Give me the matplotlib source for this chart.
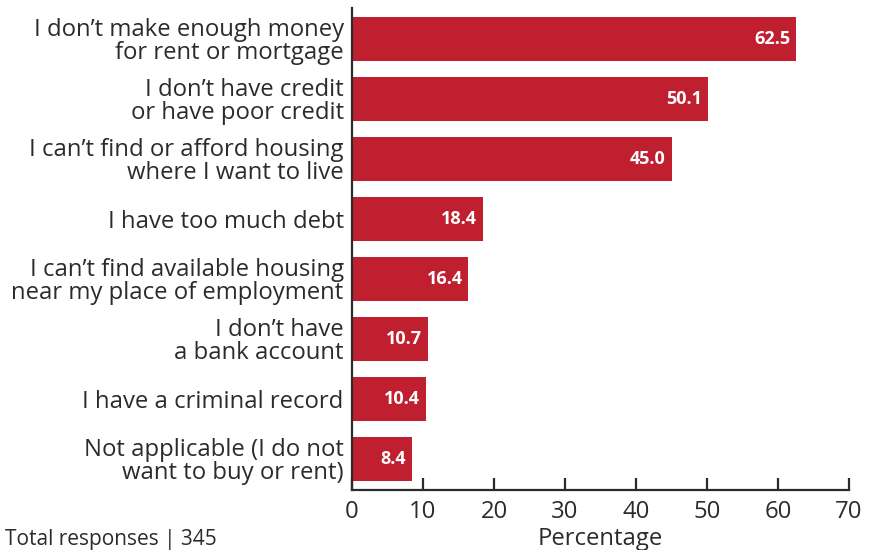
import matplotlib
matplotlib.use("Agg")
import matplotlib.pyplot as plt

categories = [
    "I don\u2019t make enough money\nfor rent or mortgage",
    "I don\u2019t have credit\nor have poor credit",
    "I can\u2019t find or afford housing\nwhere I want to live",
    "I have too much debt",
    "I can\u2019t find available housing\nnear my place of employment",
    "I don\u2019t have\na bank account",
    "I have a criminal record",
    "Not applicable (I do not\nwant to buy or rent)",
]
values = [62.5, 50.1, 45.0, 18.4, 16.4, 10.7, 10.4, 8.4]
xticks = [0, 10, 20, 30, 40, 50, 60, 70]

plt.rcParams['font.family'] = ['Open Sans', 'DejaVu Sans']
TXT = '#2b2b2b'
BAR = '#C01F30'

fig = plt.figure(figsize=(8.77, 5.5), dpi=100)
ax = fig.add_axes([352/877, 1-490/550, (849-352)/877, (490-8)/550])

pos = list(range(len(values)))
ax.barh(pos, values, height=0.73, color=BAR)
for p, v in zip(pos, values):
    ax.annotate(f"{v:.1f}", (v, p), xytext=(-4, 0), textcoords='offset points',
                ha='right', va='center', color='white', fontsize=13, fontweight='bold')

ax.set_ylim(7.52, -0.52)
ax.set_xlim(0, 70)
ax.set_yticks(pos)
ax.set_yticklabels(categories, fontsize=17.2, color=TXT, linespacing=0.95)
ax.tick_params(axis='y', length=0, pad=6)
ax.set_xticks(xticks)
ax.set_xticklabels([str(t) for t in xticks], fontsize=17.2, color=TXT)
ax.tick_params(axis='x', direction='in', length=9, width=1.6, color=TXT, pad=7)
for s in ['top', 'right']:
    ax.spines[s].set_visible(False)
for s in ['left', 'bottom']:
    ax.spines[s].set_linewidth(1.6)
    ax.spines[s].set_color(TXT)
ax.set_xlabel("Percentage", fontsize=17.2, color=TXT, labelpad=2.5)

fig.text(5/877, 1-545/550, "Total responses | 345", fontsize=15, color=TXT, ha='left', va='baseline')

fig.savefig("out.png", dpi=100)
